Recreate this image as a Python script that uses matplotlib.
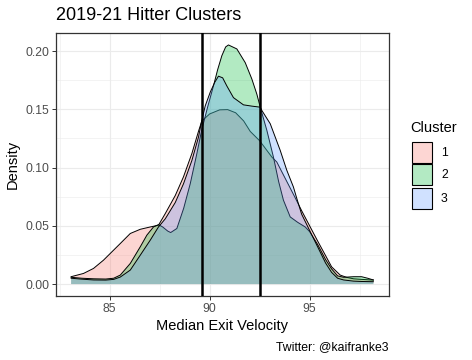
import matplotlib
matplotlib.use("Agg")
import matplotlib.pyplot as plt
from matplotlib.patches import Rectangle
from matplotlib.colors import to_rgb

plt.rcParams["font.family"] = ["Liberation Sans", "DejaVu Sans"]

# ---- data (density curves per cluster) ----
CLUSTERS = ["1", "2", "3"]
COLORS = ["#F8766D", "#00BA38", "#619CFF"]

X1 = [83.07, 83.69, 84.19, 84.69, 85.03, 85.53, 86.03, 86.53, 87.03, 87.44,
      87.78, 88.28, 88.69, 89.11, 89.44, 89.61, 90.0, 90.5, 90.9, 91.3,
      91.7, 92.03, 92.5, 93.11, 93.36, 93.8, 94.25, 94.6, 95.0, 95.4,
      95.78, 96.1, 96.53, 96.86, 97.2, 97.6, 98.19]
Y1 = [0.0063, 0.0091, 0.0134, 0.0205, 0.0263, 0.0348, 0.0434, 0.0470, 0.0490, 0.0505,
      0.0605, 0.0760, 0.0920, 0.1120, 0.1310, 0.1400, 0.1460, 0.1495, 0.1497, 0.1470,
      0.1400, 0.1310, 0.1230, 0.1090, 0.1047, 0.0900, 0.0750, 0.0630, 0.0500, 0.0370,
      0.0250, 0.0148, 0.0077, 0.0057, 0.0045, 0.0040, 0.0034]

X2 = [83.07, 83.6, 84.2, 84.8, 85.2, 85.53, 86.03, 86.53, 86.86, 87.19,
      87.44, 87.65, 87.9, 88.05, 88.36, 88.7, 89.03, 89.36, 89.6, 89.9,
      90.19, 90.4, 90.61, 90.8, 90.94, 91.36, 91.78, 92.11, 92.36, 92.56,
      92.86, 93.19, 93.45, 93.69, 94.03, 94.4, 94.78, 95.0, 95.4, 95.8,
      96.1, 96.4, 96.7, 97.2, 97.6, 97.9, 98.19]
Y2 = [0.0058, 0.0050, 0.0045, 0.0043, 0.0050, 0.0077, 0.0177, 0.0320, 0.0420, 0.0490,
      0.0510, 0.0490, 0.0455, 0.0442, 0.0477, 0.0650, 0.0862, 0.1120, 0.1320, 0.1520,
      0.1700, 0.1840, 0.1960, 0.2035, 0.2052, 0.2018, 0.1900, 0.1760, 0.1630, 0.1500,
      0.1320, 0.1090, 0.0880, 0.0720, 0.0576, 0.0530, 0.0490, 0.0450, 0.0340, 0.0210,
      0.0130, 0.0070, 0.0058, 0.0063, 0.0063, 0.0050, 0.0035]

X3 = [83.07, 83.6, 84.2, 84.8, 85.2, 85.53, 86.03, 86.53, 87.03, 87.44,
      87.78, 88.28, 88.69, 89.11, 89.44, 89.6, 89.78, 90.03, 90.25, 90.44,
      90.65, 90.86, 91.19, 91.69, 92.11, 92.53, 92.61, 93.03, 93.53, 93.86,
      94.19, 94.36, 94.6, 95.0, 95.4, 95.8, 96.1, 96.4, 96.7, 97.2,
      97.6, 98.19]
Y3 = [0.0050, 0.0042, 0.0035, 0.0034, 0.0040, 0.0060, 0.0120, 0.0248, 0.0377, 0.0490,
      0.0560, 0.0700, 0.0860, 0.1060, 0.1260, 0.1400, 0.1530, 0.1647, 0.1730, 0.1784,
      0.1770, 0.1700, 0.1600, 0.1538, 0.1527, 0.1518, 0.1490, 0.1376, 0.1147, 0.0976,
      0.0833, 0.0734, 0.0600, 0.0460, 0.0320, 0.0180, 0.0100, 0.0050, 0.0035, 0.0025,
      0.0022, 0.0020]

VLINES = [89.6, 92.5]
XTICKS = [85, 90, 95]
YTICKS = [0.00, 0.05, 0.10, 0.15, 0.20]

W, H = 472, 360
ALPHA = 0.3


def fx(px):
    return px / W


def fy(py):
    return 1 - py / H


def blend(c):
    r, g, b = to_rgb(c)
    return (1 - ALPHA + ALPHA * r, 1 - ALPHA + ALPHA * g, 1 - ALPHA + ALPHA * b)


fig = plt.figure(figsize=(W / 100, H / 100), dpi=100)
ax = fig.add_axes([fx(56), fy(296), fx(388.5) - fx(56), fy(33) - fy(296)])

series = [(X1, Y1), (X2, Y2), (X3, Y3)]
for (xs, ys), col in zip(series, COLORS):
    ax.fill_between(xs, 0, ys, facecolor=col, alpha=ALPHA, lw=0, zorder=2)
    ax.plot(xs, ys, color="black", lw=0.7, zorder=2)

for v in VLINES:
    ax.axvline(v, color="black", lw=1.8, zorder=3)

# ggplot-style expansion
allx = X1 + X2 + X3
ally = Y1 + Y2 + Y3
xr = max(allx) - min(allx)
ax.set_xlim(min(allx) - 0.05 * xr, max(allx) + 0.05 * xr)
ymax = max(ally)
ax.set_ylim(-0.05 * ymax, ymax * 1.05)

ax.set_xticks(XTICKS)
ax.set_yticks(YTICKS)
ax.set_yticklabels([f"{t:.2f}" for t in YTICKS])
ax.set_xticks([82.5, 87.5, 92.5, 97.5], minor=True)
ax.set_yticks([0.025, 0.075, 0.125, 0.175], minor=True)
ax.grid(True, which="major", color="#EBEBEB", lw=0.8, zorder=0)
ax.grid(True, which="minor", color="#EBEBEB", lw=0.4, zorder=0)
ax.set_axisbelow(True)
ax.tick_params(which="major", length=2.75, width=0.7, color="#333333",
               labelsize=8.8, labelcolor="#4D4D4D", pad=2.2)
ax.tick_params(which="minor", length=0)
for s in ax.spines.values():
    s.set_color("#333333")
    s.set_linewidth(0.9)

ax.set_xlabel("Median Exit Velocity", fontsize=10.5, labelpad=3)
ax.set_ylabel("Density", fontsize=10.5, labelpad=4)

fig.text(fx(56), fy(16), "2019-21 Hitter Clusters", fontsize=13,
         ha="left", va="center")
fig.text(fx(388.5), fy(347), "Twitter: @kaifranke3", fontsize=8.8,
         ha="right", va="center")

# legend drawn by hand, ggplot-like
fig.text(fx(410), fy(128), "Cluster", fontsize=10.5, ha="left", va="center")
key_tops = [142, 164, 187.5]
for lab, col, top in zip(CLUSTERS, COLORS, key_tops):
    fig.add_artist(Rectangle((fx(412), fy(top + 21.5)), fx(432) - fx(412),
                             fy(top) - fy(top + 21.5), transform=fig.transFigure,
                             facecolor=blend(col), edgecolor="black", lw=0.8))
    fig.text(fx(441), fy(top + 11), lab, fontsize=8.8, ha="left", va="center")

fig.savefig("out.png", dpi=100)
